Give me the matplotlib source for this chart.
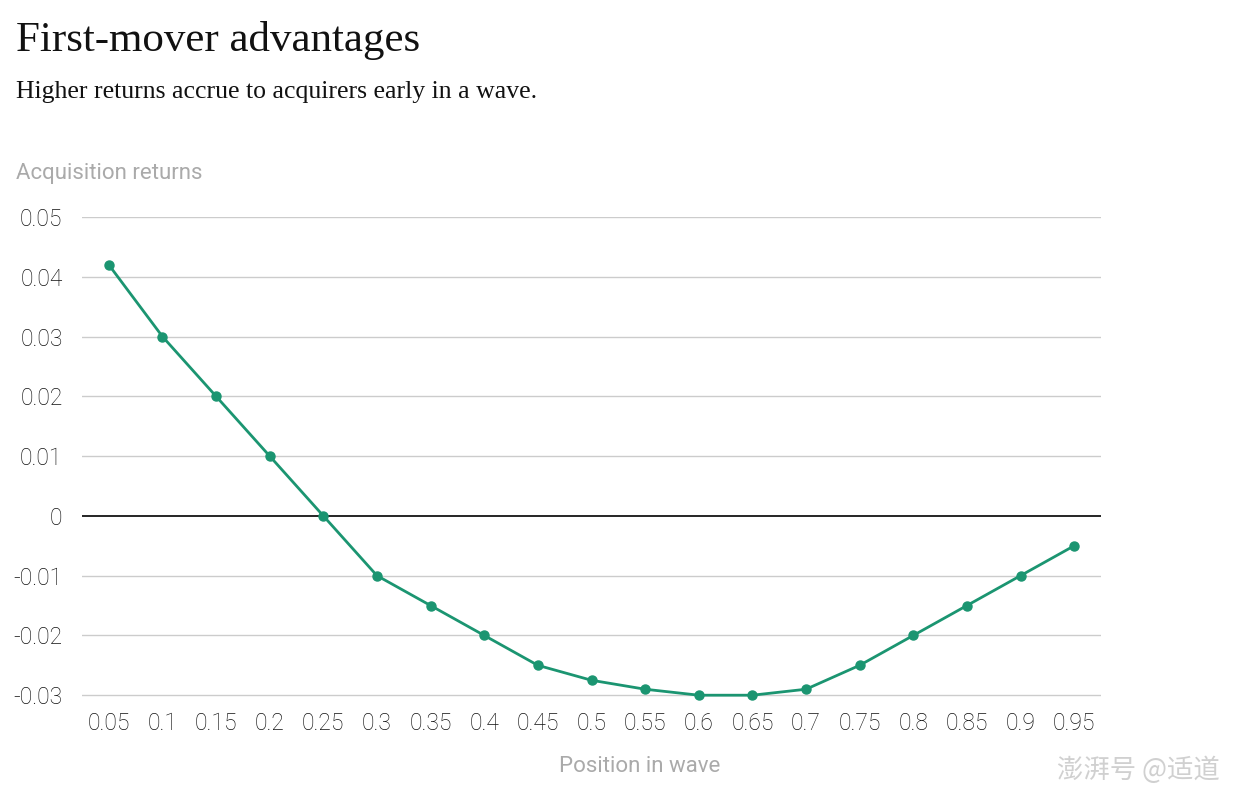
import matplotlib.pyplot as plt

# === Data ===
positions = ["0.05", "0.1", "0.15", "0.2", "0.25", "0.3", "0.35", "0.4", "0.45", "0.5",
             "0.55", "0.6", "0.65", "0.7", "0.75", "0.8", "0.85", "0.9", "0.95"]
returns = [0.042, 0.03, 0.02, 0.01, 0.0, -0.01, -0.015, -0.02, -0.025, -0.0275,
           -0.029, -0.03, -0.03, -0.029, -0.025, -0.02, -0.015, -0.01, -0.005]
y_ticks = [0.05, 0.04, 0.03, 0.02, 0.01, 0, -0.01, -0.02, -0.03]
y_tick_labels = ["0.05", "0.04", "0.03", "0.02", "0.01", "0", "-0.01", "-0.02", "-0.03"]

green = "#1b9571"
sans = ["Roboto", "DejaVu Sans"]
serif = ["Liberation Serif", "DejaVu Serif"]

fig = plt.figure(figsize=(12.38, 7.9), dpi=100)
ax = fig.add_axes([82 / 1238, 1 - 697 / 790, (1101 - 82) / 1238, (697 - 217) / 790])

# === Grid and zero line ===
for t in y_ticks:
    if t == 0:
        ax.axhline(t, color="black", lw=1.2, zorder=2)
    else:
        ax.axhline(t, color="#cccccc", lw=1.0, zorder=1)

x = list(range(len(positions)))
ax.plot(x, returns, color=green, lw=2.0, marker="o", ms=6.5, zorder=3, clip_on=False)

ax.set_xlim(-0.5, len(positions) - 0.5)
ax.set_ylim(-0.0303, 0.05)
ax.set_xticks(x)
ax.set_xticklabels(positions, family=sans, fontweight="light", fontsize=16.5, color="#111111")
ax.set_yticks(y_ticks)
ax.set_yticklabels(y_tick_labels, family=sans, fontweight="light", fontsize=16.5, color="#111111")
ax.tick_params(length=0)
ax.tick_params(axis="x", pad=11)
ax.tick_params(axis="y", pad=14)
for s in ax.spines.values():
    s.set_visible(False)

# === Titles and labels ===
fig.text(16 / 1238, 1 - 51 / 790, "First-mover advantages", family=serif,
         fontsize=31, color="#111111", va="baseline")
fig.text(16 / 1238, 1 - 98 / 790, "Higher returns accrue to acquirers early in a wave.",
         family=serif, fontsize=18.5, color="#111111", va="baseline")
fig.text(16 / 1238, 1 - 179 / 790, "Acquisition returns", family=sans, fontsize=16,
         color="#aaaaaa", va="baseline")
fig.text(640 / 1238, 1 - 772 / 790, "Position in wave", family=sans, fontsize=16,
         color="#aaaaaa", va="baseline", ha="center")

# watermark
fig.text(1220 / 1238, 1 - 778 / 790, "澎湃号 @适道", family=["Noto Sans CJK SC", "DejaVu Sans"],
         fontsize=19, color="#d0d0d0", va="baseline", ha="right", style="italic")

fig.savefig("out.png", dpi=100)
plt.close(fig)
